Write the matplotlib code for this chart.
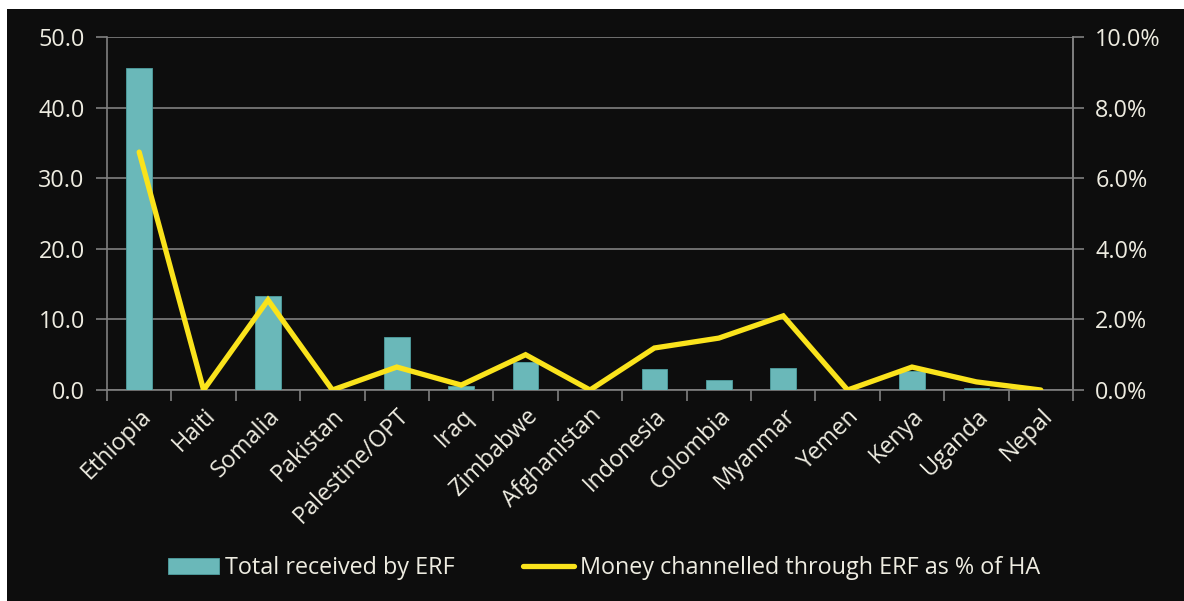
import matplotlib.pyplot as plt
from matplotlib.patches import Rectangle
from matplotlib.ticker import FuncFormatter, FixedLocator

# Countries and ERF figures
countries = ['Ethiopia', 'Haiti', 'Somalia', 'Pakistan', 'Palestine/OPT', 'Iraq',
             'Zimbabwe', 'Afghanistan', 'Indonesia', 'Colombia', 'Myanmar',
             'Yemen', 'Kenya', 'Uganda', 'Nepal']
total_received = [45.6, 0.0, 13.3, 0.0, 7.5, 0.6, 3.9, 0.0, 3.0, 1.4, 3.1,
                  0.0, 2.7, 0.3, 0.0]
pct_of_ha = [0.0674, 0.0, 0.0255, 0.0, 0.0065, 0.0014, 0.0100, 0.0, 0.0119,
             0.0147, 0.0210, 0.0, 0.0065, 0.0023, 0.0]

bg = '#0d0d0d'
txt = '#eeece1'
grid_col = '#808080'
bar_col = '#6ab8b9'
line_col = '#fae31c'
fs = 16.8

plt.rcParams['font.family'] = ['Open Sans', 'DejaVu Sans']

W, H = 1184, 601
fig = plt.figure(figsize=(W / 100, H / 100), dpi=100, facecolor='white')
fig.patches.append(Rectangle((7 / W, 0), 1 - 7 / W, (H - 9) / H,
                             transform=fig.transFigure, facecolor=bg,
                             edgecolor='none', zorder=-10))

ax = fig.add_axes([107 / W, 1 - 390 / H, (1073 - 107) / W, (390 - 37) / H])
ax.patch.set_visible(False)
x = list(range(len(countries)))

bars = ax.bar(x, total_received, width=0.4, color=bar_col, edgecolor='#4f9fa1',
              linewidth=0.6, zorder=3, label='Total received by ERF')
ax.set_xlim(-0.5, len(countries) - 0.5)
ax.set_ylim(0, 50)
ax.set_yticks([0, 10, 20, 30, 40, 50])
ax.yaxis.set_major_formatter(FuncFormatter(lambda v, p: f'{v:.1f}'))
ax.yaxis.grid(True, color=grid_col, linewidth=1.2, zorder=0)
ax.set_axisbelow(True)

ax.set_xticks(x)
ax.set_xticklabels(countries, rotation=45, ha='right', va='top',
                   rotation_mode='anchor', color=txt, fontsize=fs)
ax.xaxis.set_minor_locator(FixedLocator([i - 0.5 for i in range(len(countries) + 1)]))
ax.tick_params(axis='x', which='major', length=0, pad=10)
ax.tick_params(axis='x', which='minor', length=8, width=1.2, color=grid_col)
ax.tick_params(axis='y', length=8, width=1.2, color=grid_col, labelcolor=txt,
               labelsize=fs, pad=8)

ax.spines['top'].set_visible(False)
for s in ['left', 'right', 'bottom']:
    ax.spines[s].set_color(grid_col)
    ax.spines[s].set_linewidth(1.2)

ax2 = ax.twinx()
ax2.patch.set_visible(False)
line, = ax2.plot(x, pct_of_ha, color=line_col, linewidth=3.8,
                 solid_capstyle='round', solid_joinstyle='miter', zorder=4,
                 label='Money channelled through ERF as % of HA')
ax2.set_ylim(0, 0.10)
ax2.set_yticks([0, 0.02, 0.04, 0.06, 0.08, 0.10])
ax2.yaxis.set_major_formatter(FuncFormatter(lambda v, p: f'{v * 100:.1f}%'))
ax2.tick_params(axis='y', length=8, width=1.2, color=grid_col, labelcolor=txt,
                labelsize=fs, pad=8)
for s in ['top', 'left', 'bottom']:
    ax2.spines[s].set_visible(False)
ax2.spines['right'].set_color(grid_col)
ax2.spines['right'].set_linewidth(1.2)

leg = fig.legend([bars, line], [bars.get_label(), line.get_label()],
                 loc='center', bbox_to_anchor=(604 / W, 1 - 568 / H), ncol=2,
                 frameon=False, fontsize=fs, handlelength=2.2, handleheight=0.7,
                 handletextpad=0.25, columnspacing=2.9)
for t in leg.get_texts():
    t.set_color(txt)

fig.savefig('out.png', dpi=100, facecolor='white')
